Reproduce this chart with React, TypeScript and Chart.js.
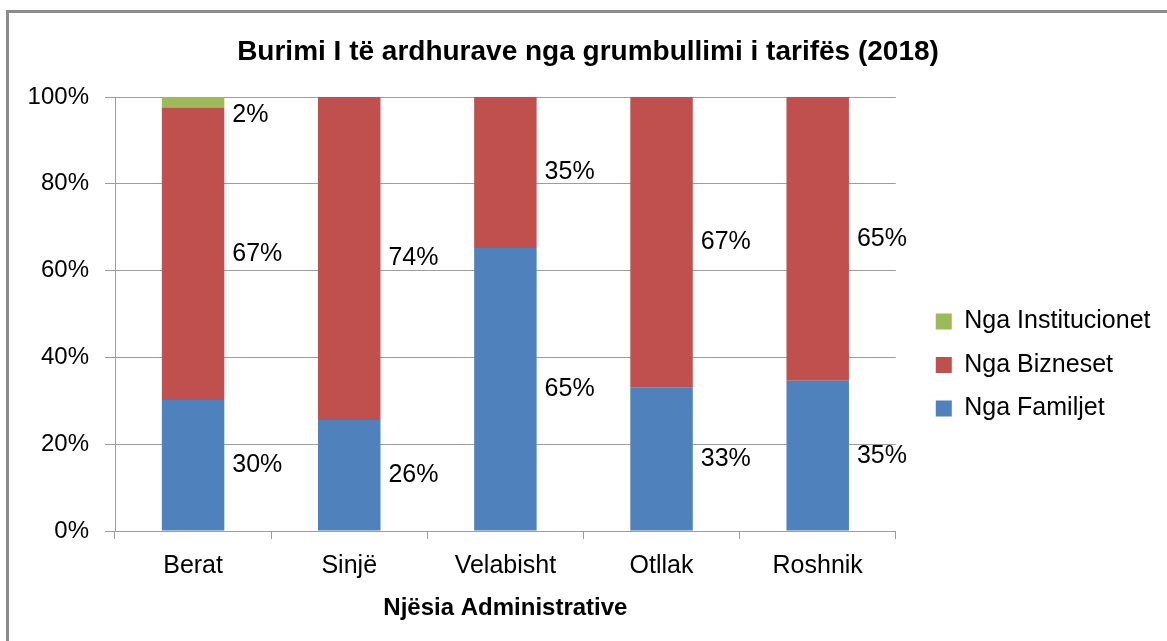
import React, { useEffect, useRef } from 'react';
import { Chart, registerables } from 'chart.js';

Chart.register(...registerables);

const categories = ['Berat', 'Sinjë', 'Velabisht', 'Otllak', 'Roshnik'];
const familjet = [30.2, 25.6, 65.2, 33.0, 34.6];
const bizneset = [67.4, 74.4, 34.8, 67.0, 65.4];
const institucionet = [2.4, 0, 0, 0, 0];
const seriesNames = ['Nga Familjet', 'Nga Bizneset', 'Nga Institucionet'];
const seriesColors = ['#4F81BD', '#C0504D', '#9BBB59'];
const yMin = 0;
const yMax = 100;
const yStep = 20;
const titleText = 'Burimi I të ardhurave nga grumbullimi i tarifës (2018)';
const xTitleText = 'Njësia Administrative';

const FONT = '"Liberation Sans", Arial, Helvetica, sans-serif';
const GRID = '#9d9d9d';

const segLabels = {
  id: 'segLabels',
  afterDatasetsDraw(chart: any) {
    const { ctx, chartArea } = chart;
    ctx.save();
    ctx.font = `25px ${FONT}`;
    ctx.fillStyle = '#000';
    ctx.textAlign = 'left';
    ctx.textBaseline = 'middle';
    chart.data.datasets.forEach((ds: any, di: number) => {
      const meta = chart.getDatasetMeta(di);
      meta.data.forEach((bar: any, i: number) => {
        const v = ds.data[i];
        if (!v || v < 0.5) return;
        const p = bar.getProps(['x', 'y', 'base', 'width'], true);
        let y = (p.y + p.base) / 2;
        y = Math.max(y, chartArea.top + 18);
        ctx.fillText(Math.round(v) + '%', p.x + p.width / 2 + 8, y);
      });
    });
    ctx.restore();
  },
};

export default function App() {
  const ref = useRef<HTMLCanvasElement | null>(null);

  useEffect(() => {
    if (!ref.current) return;
    const seriesData = [familjet, bizneset, institucionet];
    const chart = new Chart(ref.current, {
      type: 'bar',
      data: {
        labels: categories,
        datasets: seriesNames.map((name, i) => ({
          label: name,
          data: seriesData[i],
          backgroundColor: seriesColors[i],
          borderWidth: 0,
          categoryPercentage: 1,
          barPercentage: 0.4,
          yAxisID: 'y',
        })),
      },
      options: {
        responsive: false,
        animation: false,
        devicePixelRatio: 1,
        layout: { padding: { left: 15.5, right: 6.5, top: 0, bottom: 0 } },
        plugins: {
          title: {
            display: true,
            text: titleText,
            color: '#000',
            font: { family: FONT, size: 28, weight: 'bold' },
            padding: { top: 35, bottom: 28.4 },
          },
          legend: {
            display: true,
            position: 'right',
            align: 'center',
            reverse: true,
            maxWidth: 300,
            title: { display: true, text: '', font: { size: 10, lineHeight: 1 }, padding: { top: 79, bottom: 0 } },
            labels: {
              boxWidth: 16,
              boxHeight: 16,
              padding: 18.5,
              color: '#000',
              font: { family: FONT, size: 25 },
            },
          },
          tooltip: { enabled: false },
        },
        scales: {
          x: {
            stacked: true,
            offset: true,
            grid: { display: true, drawOnChartArea: false, drawTicks: true, tickLength: 8, offset: true, color: GRID },
            border: { display: true, color: GRID },
            ticks: { color: '#000', font: { family: FONT, size: 25 }, padding: 12, maxRotation: 0 },
            title: {
              display: true,
              text: xTitleText,
              color: '#000',
              font: { family: FONT, size: 24, weight: 'bold' },
              padding: { top: 0, bottom: 18.6 },
            },
            afterFit(s: any) { s.height = 110; },
          },
          y: {
            stacked: true,
            min: yMin,
            max: yMax,
            ticks: {
              stepSize: yStep,
              color: '#000',
              font: { family: FONT, size: 24 },
              padding: 16,
              callback: (v: any) => v + '%',
            },
            grid: { color: GRID, tickLength: 10, drawTicks: true },
            border: { display: true, color: GRID },
            afterFit(s: any) { s.width = 99.5; },
          },
          y2: {
            position: 'right',
            display: true,
            grid: { display: false, drawTicks: false },
            border: { display: false },
            ticks: { display: false },
            afterFit(s: any) { s.width = 21.5; },
          },
        },
      },
      plugins: [segLabels],
    });
    return () => chart.destroy();
  }, []);

  return (
    <div style={{ position: 'fixed', left: 0, top: 0, width: 1167, height: 641, overflow: 'hidden', background: '#fff' }}>
      <div
        style={{
          position: 'absolute',
          left: 6,
          top: 10,
          width: 1300,
          height: 800,
          border: '3px solid #8c8c8c',
          boxSizing: 'border-box',
        }}
      />
      <canvas ref={ref} width={1167} height={641} style={{ position: 'absolute', left: 0, top: 0, display: 'block' }} />
    </div>
  );
}
